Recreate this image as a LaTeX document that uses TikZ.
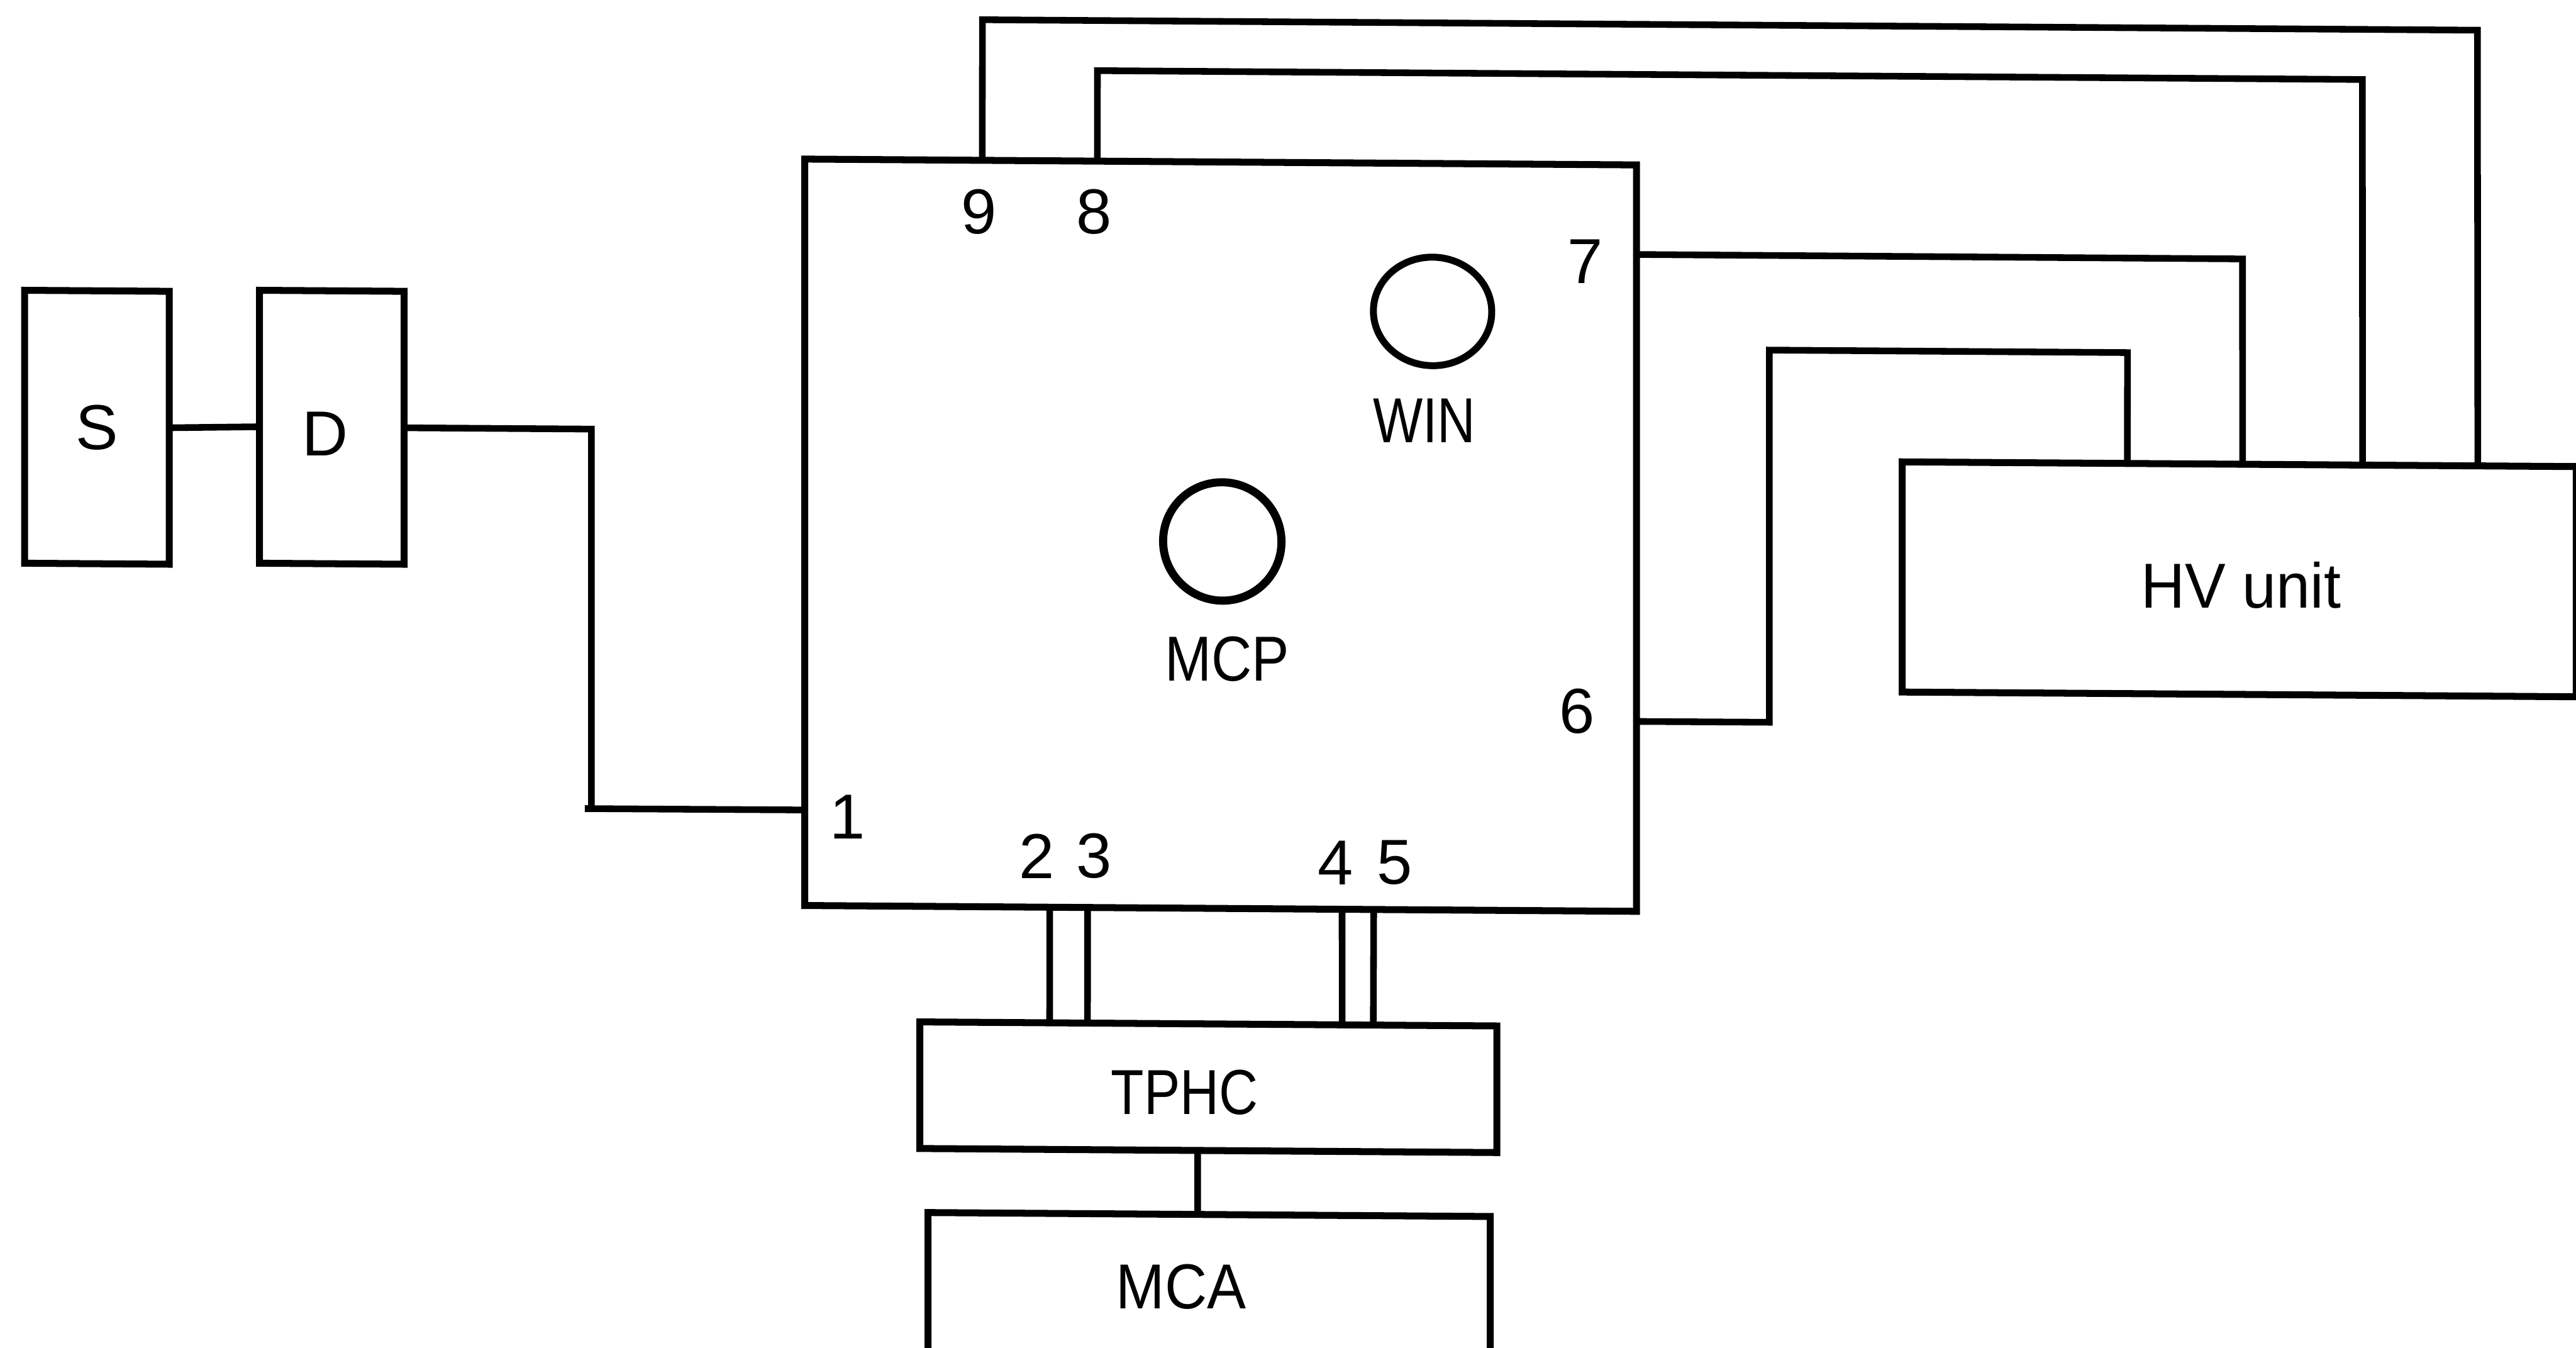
\documentclass[tikz,border=0pt]{standalone}
\usepackage{fontspec}
\setmainfont{Liberation Sans}
\usetikzlibrary{calc,shapes.geometric}
\tikzset{
  wire/.style={line width=1.15pt,line join=miter,line cap=butt},
  blk/.style={draw,line width=1.2pt,rectangle,inner sep=0pt,outer sep=0pt,transform shape},
  ring/.style={draw,line width=1.2pt,ellipse,inner sep=0pt,outer sep=0pt,transform shape},
  lab/.style={inner sep=0pt,outer sep=0pt,transform shape,font=\fontsize{11}{13}\selectfont},
}
\begin{document}
\begin{tikzpicture}[x=0.01cm,y=-0.01cm]
\useasboundingbox (0,0) rectangle (1568,820);
\clip (0,0) rectangle (1568,820);
\begin{scope}[yslant=-0.007]
% boxes
\node[blk,minimum width=0.88cm,minimum height=1.66cm] (S) at (59,259.6) {};
\node[blk,minimum width=0.88cm,minimum height=1.66cm] (D) at (202,258.6) {};
\node[blk,minimum width=5.06cm,minimum height=4.54cm] (main) at (743,320.5) {};
\node[blk,minimum width=4.10cm,minimum height=1.40cm] (HV) at (1363,343) {};
\node[blk,minimum width=3.51cm,minimum height=0.77cm] (TPHC) at (735.5,656.5) {};
\node[blk,minimum width=3.42cm,minimum height=1.07cm] (MCA) at (736,787.5) {};
\node[ring,minimum width=0.72cm,minimum height=0.66cm] (win) at (872,183.4) {};
\node[ring,line width=1.4pt,minimum width=0.72cm,minimum height=0.72cm] (mcp) at (744,324.3) {};
% ports
\coordinate (p1) at ($(main.north west)!0.872!(main.south west)$);
\coordinate (p2) at ($(main.south west)!0.2945!(main.south east)$);
\coordinate (p3) at ($(main.south west)!0.34!(main.south east)$);
\coordinate (p4) at ($(main.south west)!0.646!(main.south east)$);
\coordinate (p5) at ($(main.south west)!0.684!(main.south east)$);
\coordinate (p6) at ($(main.north east)!0.7456!(main.south east)$);
\coordinate (p7) at ($(main.north east)!0.12!(main.south east)$);
\coordinate (p8) at ($(main.north west)!0.3518!(main.north east)$);
\coordinate (p9) at ($(main.north west)!0.2134!(main.north east)$);
\coordinate (h1) at ($(HV.north west)!0.334!(HV.north east)$);
\coordinate (h2) at ($(HV.north west)!0.505!(HV.north east)$);
\coordinate (h3) at ($(HV.north west)!0.683!(HV.north east)$);
\coordinate (h4) at ($(HV.north west)!0.854!(HV.north east)$);
\coordinate (t2) at ($(TPHC.north west)!0.225!(TPHC.north east)$);
\coordinate (t3) at ($(TPHC.north west)!0.2906!(TPHC.north east)$);
\coordinate (t4) at ($(TPHC.north west)!0.732!(TPHC.north east)$);
\coordinate (t5) at ($(TPHC.north west)!0.786!(TPHC.north east)$);
\coordinate (ts) at ($(TPHC.south west)!0.4815!(TPHC.south east)$);
\coordinate (mn) at ($(MCA.north west)!0.4795!(MCA.north east)$);
\coordinate (stub) at (356,489.6);
% connectors
\draw[wire] (S.east) -- (D.west);
\draw[wire] (D.east) -- (360,258.6) -- (360,489.6);
\draw[wire] (stub) -- (p1);
\draw[wire] (p9) -- (598,7.8) -- (1508,7.8) -- (h4);
\draw[wire] (p8) -- (668,38.3) -- (1438,38.3) -- (h3);
\draw[wire] (p7) -- (1365,148) -- (h2);
\draw[wire] (p6) -- (1077,432) -- (1077,205.5) -- (1295,205.5) -- (h1);
\draw[wire] (p2) -- (t2);
\draw[wire] (p3) -- (t3);
\draw[wire] (p4) -- (t4);
\draw[wire] (p5) -- (t5);
\draw[wire] (ts) -- (mn);
\end{scope}
% labels
\node[lab] (tS) at (59,260) {S};
\node[lab] (tD) at (198,264) {D};
\node[lab,xscale=.83] (tWIN) at (867,256) {WIN};
\node[lab,xscale=.88] (tMCP) at (747,401) {MCP};
\node[lab,xscale=.96] (tHV) at (1364,356) {HV unit};
\node[lab,xscale=.85] (tTPHC) at (721,665) {TPHC};
\node[lab,xscale=.92] (tMCA) at (719,783) {MCA};
\node[lab] (n1) at (516,497) {1};
\node[lab] (n2) at (631,521) {2};
\node[lab] (n3) at (666,521) {3};
\node[lab] (n4) at (813,525) {4};
\node[lab] (n5) at (849,525) {5};
\node[lab] (n6) at (960,433) {6};
\node[lab] (n7) at (965,159) {7};
\node[lab] (n8) at (666,129) {8};
\node[lab] (n9) at (596,129) {9};
\end{tikzpicture}
\end{document}
